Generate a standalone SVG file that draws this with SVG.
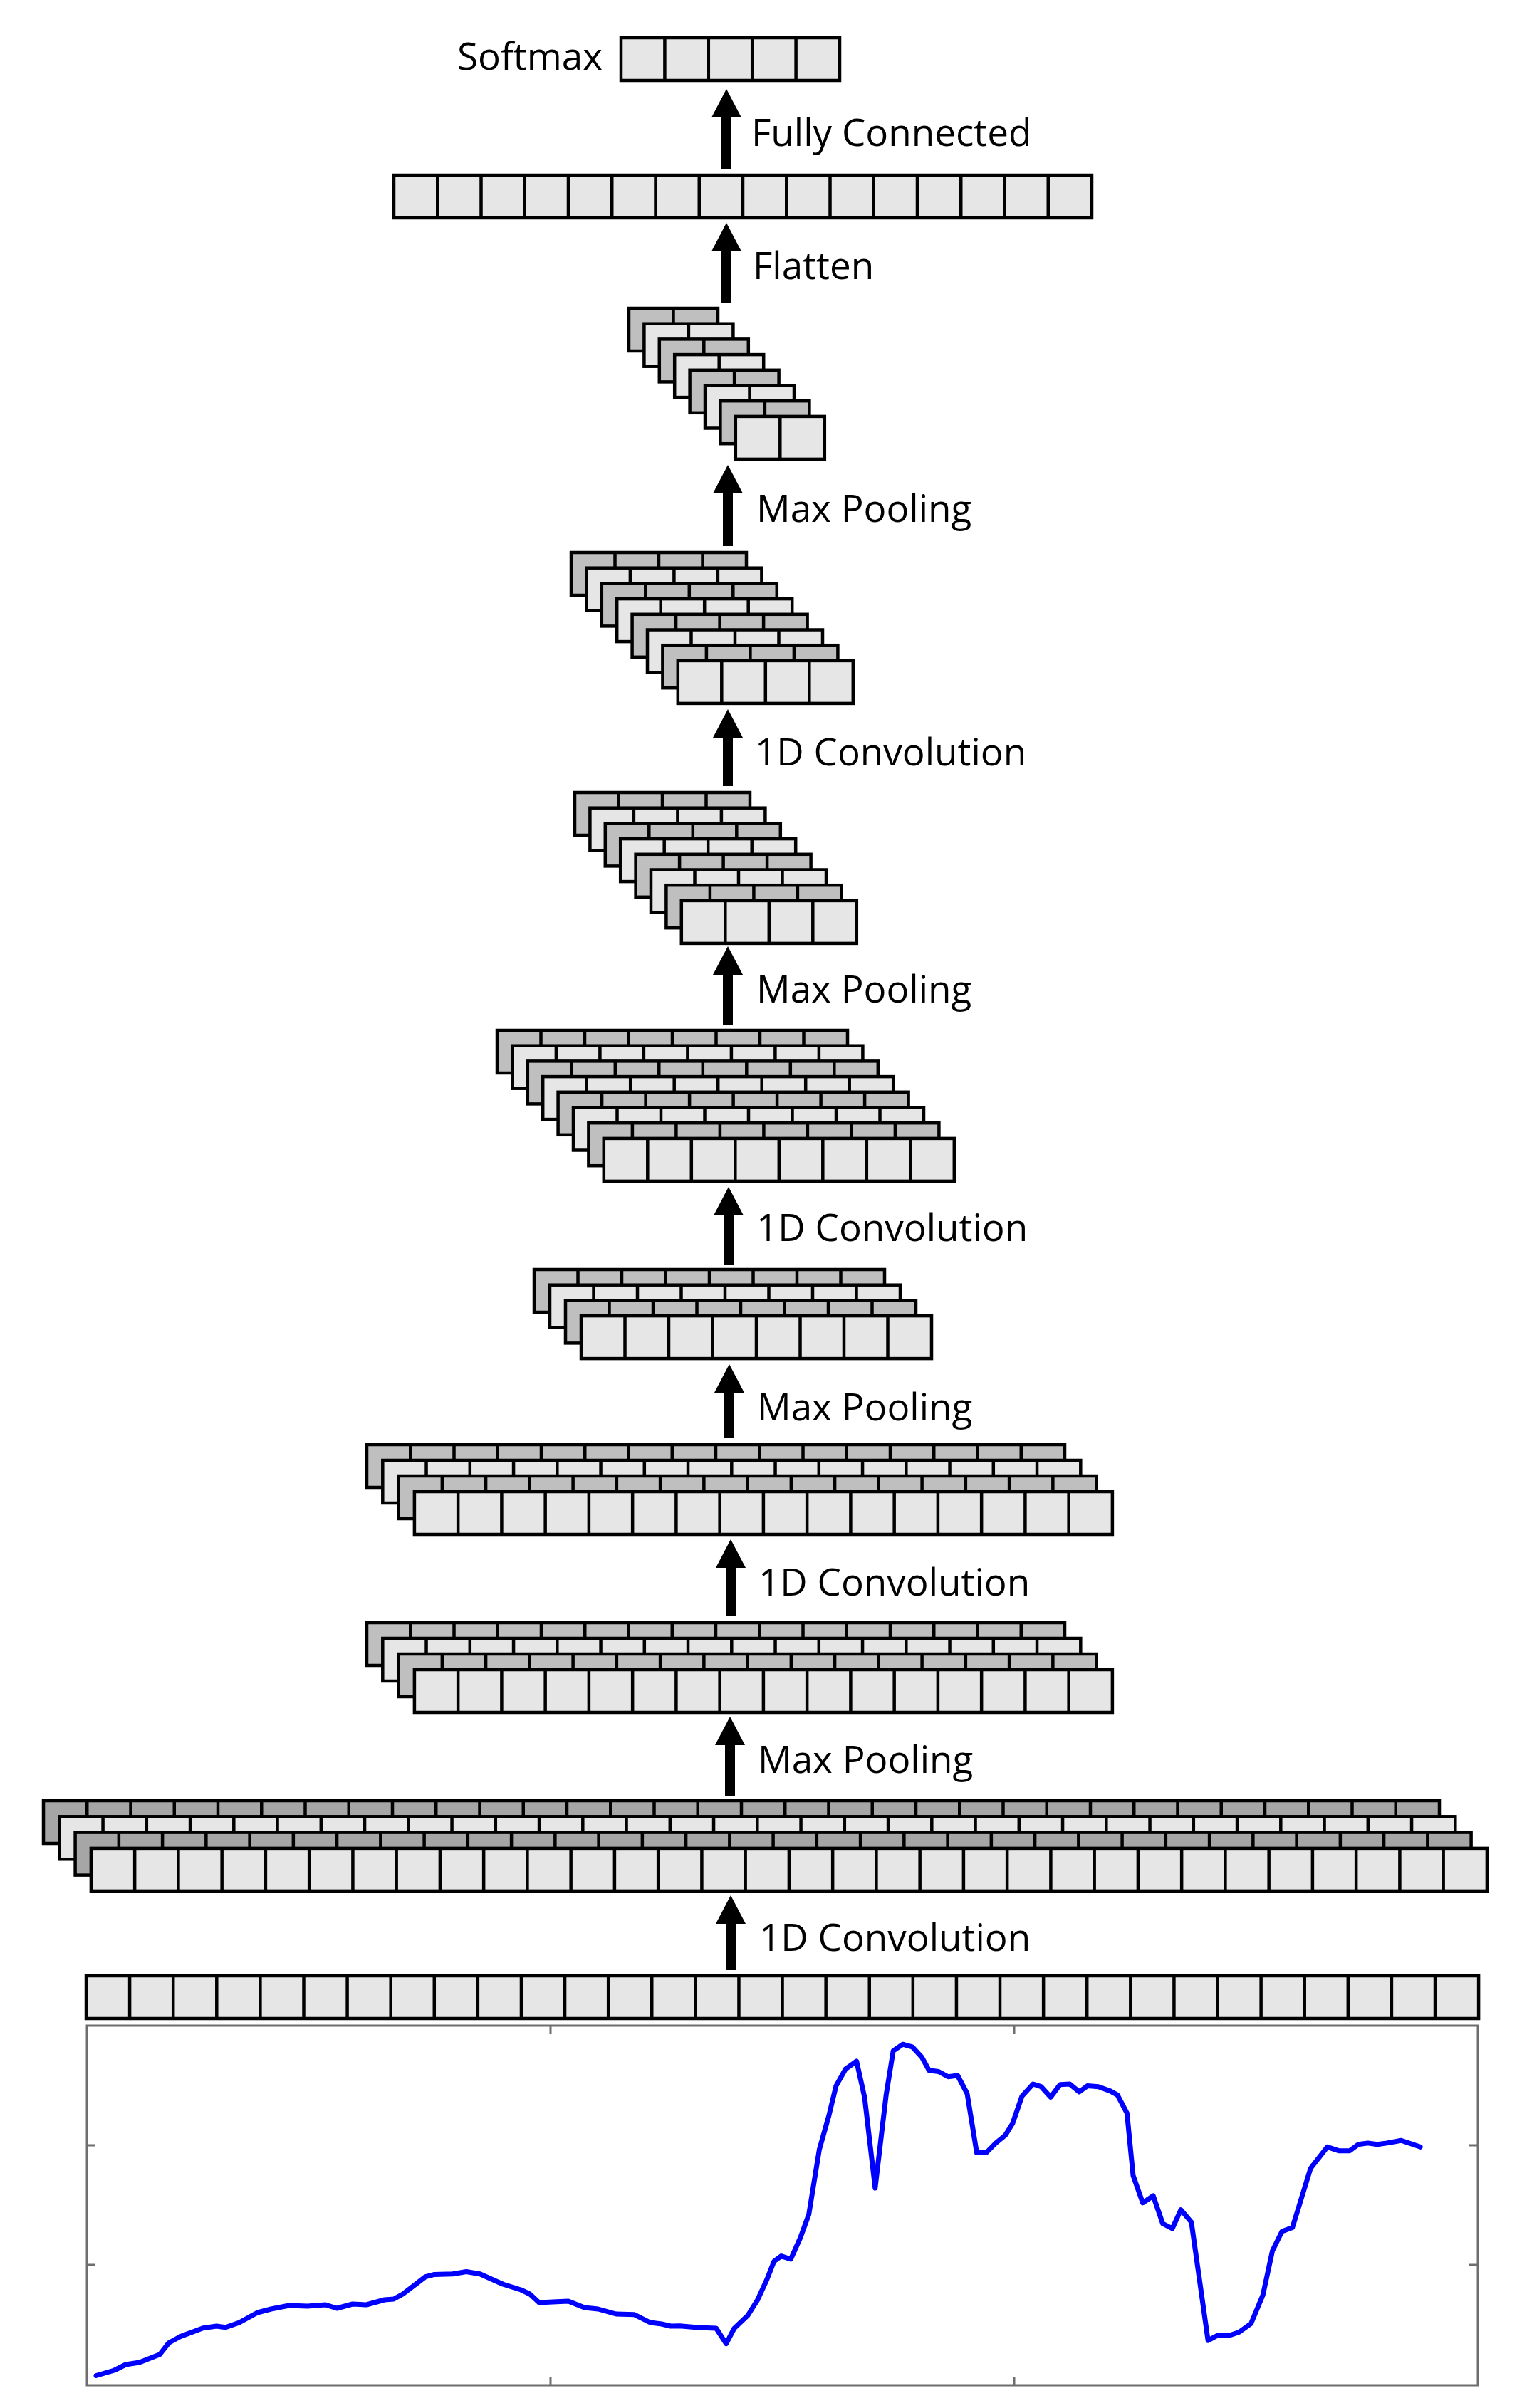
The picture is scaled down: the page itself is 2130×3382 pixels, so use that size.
<svg xmlns="http://www.w3.org/2000/svg" width="2130" height="3382" viewBox="0 0 2130 3382">
<style>
.lt{fill:#e6e6e6}
.dk{fill:#bfbfbf}
.dk2{fill:#a6a6a6}
.lbl{font-family:"Open Sans","Noto Sans","Liberation Sans",sans-serif;font-size:53px;fill:#000}
.arr{stroke:#000;stroke-width:14;fill:none;marker-end:url(#head)}
.axis{fill:#fff;stroke:#6e6e6e;stroke-width:3}
.tick{stroke:#6e6e6e;stroke-width:3;fill:none}
.sig{fill:none;stroke:#0000ff;stroke-width:7;stroke-linejoin:round;stroke-linecap:round}
</style>
<defs>
<marker id="head" viewBox="0 0 40 42" refX="0" refY="21" markerWidth="40" markerHeight="42" markerUnits="userSpaceOnUse" orient="auto">
<path d="M0 0 L40 21 L0 42 Z" fill="#000"/>
</marker>
<g id="s2" stroke="#000" stroke-width="4.5"><rect width="125" height="60"/><path fill="none" d="M62.5 0V60"/></g>
<g id="s4" stroke="#000" stroke-width="4.5"><rect width="246" height="60"/><path fill="none" d="M61.5 0V60M123 0V60M184.5 0V60"/></g>
<g id="s5" stroke="#000" stroke-width="4.5"><rect width="307" height="60"/><path fill="none" d="M61.4 0V60M122.8 0V60M184.2 0V60M245.6 0V60"/></g>
<g id="s8" stroke="#000" stroke-width="4.5"><rect width="492" height="60"/><path fill="none" d="M61.5 0V60M123 0V60M184.5 0V60M246 0V60M307.5 0V60M369 0V60M430.5 0V60"/></g>
<g id="s16" stroke="#000" stroke-width="4.5"><rect width="980" height="60"/><path fill="none" d="M61.25 0V60M122.5 0V60M183.75 0V60M245 0V60M306.25 0V60M367.5 0V60M428.75 0V60M490 0V60M551.25 0V60M612.5 0V60M673.75 0V60M735 0V60M796.25 0V60M857.5 0V60M918.75 0V60"/></g>
<g id="s32" stroke="#000" stroke-width="4.5"><rect width="1960" height="60"/><path fill="none" d="M61.25 0V60M122.5 0V60M183.75 0V60M245 0V60M306.25 0V60M367.5 0V60M428.75 0V60M490 0V60M551.25 0V60M612.5 0V60M673.75 0V60M735 0V60M796.25 0V60M857.5 0V60M918.75 0V60M980 0V60M1041.25 0V60M1102.5 0V60M1163.75 0V60M1225 0V60M1286.25 0V60M1347.5 0V60M1408.75 0V60M1470 0V60M1531.25 0V60M1592.5 0V60M1653.75 0V60M1715 0V60M1776.25 0V60M1837.5 0V60M1898.75 0V60"/></g>
</defs>
<rect width="2130" height="3382" fill="#fff"/>

<g id="softmax">
<use href="#s5" x="872" y="53" class="lt"/>
<text class="lbl" x="642" y="98">Softmax</text>
</g>

<g id="flatten-output">
<use href="#s16" x="553" y="246" class="lt"/>
</g>

<g id="pool4-output">
<use href="#s2" x="883" y="433" class="dk"/>
<use href="#s2" x="904.4" y="454.7" class="lt"/>
<use href="#s2" x="925.8" y="476.4" class="dk"/>
<use href="#s2" x="947.2" y="498.1" class="lt"/>
<use href="#s2" x="968.6" y="519.8" class="dk"/>
<use href="#s2" x="990" y="541.5" class="lt"/>
<use href="#s2" x="1011.4" y="563.2" class="dk"/>
<use href="#s2" x="1032.8" y="584.9" class="lt"/>
</g>

<g id="conv4-output">
<use href="#s4" x="802" y="776" class="dk"/>
<use href="#s4" x="823.4" y="797.7" class="lt"/>
<use href="#s4" x="844.8" y="819.4" class="dk"/>
<use href="#s4" x="866.2" y="841.1" class="lt"/>
<use href="#s4" x="887.6" y="862.8" class="dk"/>
<use href="#s4" x="909" y="884.5" class="lt"/>
<use href="#s4" x="930.4" y="906.2" class="dk"/>
<use href="#s4" x="951.8" y="927.9" class="lt"/>
</g>

<g id="pool3-output">
<use href="#s4" x="807" y="1113" class="dk"/>
<use href="#s4" x="828.4" y="1134.7" class="lt"/>
<use href="#s4" x="849.8" y="1156.4" class="dk"/>
<use href="#s4" x="871.2" y="1178.1" class="lt"/>
<use href="#s4" x="892.6" y="1199.8" class="dk"/>
<use href="#s4" x="914" y="1221.5" class="lt"/>
<use href="#s4" x="935.4" y="1243.2" class="dk"/>
<use href="#s4" x="956.8" y="1264.9" class="lt"/>
</g>

<g id="conv3-output">
<use href="#s8" x="698" y="1447" class="dk"/>
<use href="#s8" x="719.4" y="1468.7" class="lt"/>
<use href="#s8" x="740.8" y="1490.4" class="dk"/>
<use href="#s8" x="762.2" y="1512.1" class="lt"/>
<use href="#s8" x="783.6" y="1533.8" class="dk"/>
<use href="#s8" x="805" y="1555.5" class="lt"/>
<use href="#s8" x="826.4" y="1577.2" class="dk"/>
<use href="#s8" x="847.8" y="1598.9" class="lt"/>
</g>

<g id="pool2-output">
<use href="#s8" x="750" y="1783" class="dk"/>
<use href="#s8" x="772" y="1804.7" class="lt"/>
<use href="#s8" x="794" y="1826.4" class="dk"/>
<use href="#s8" x="816" y="1848.1" class="lt"/>
</g>

<g id="conv2-output">
<use href="#s16" x="515" y="2029" class="dk"/>
<use href="#s16" x="537.3" y="2051" class="lt"/>
<use href="#s16" x="559.6" y="2073" class="dk"/>
<use href="#s16" x="581.9" y="2095" class="lt"/>
</g>

<g id="pool1-output">
<use href="#s16" x="515" y="2279" class="dk"/>
<use href="#s16" x="537.3" y="2301" class="lt"/>
<use href="#s16" x="559.6" y="2323" class="dk"/>
<use href="#s16" x="581.9" y="2345" class="lt"/>
</g>

<g id="conv1-output">
<use href="#s32" x="61" y="2529" class="dk2"/>
<use href="#s32" x="83.3" y="2551.3" class="lt"/>
<use href="#s32" x="105.6" y="2573.6" class="dk2"/>
<use href="#s32" x="127.9" y="2595.9" class="lt"/>
</g>

<g id="input">
<use href="#s32" transform="translate(121 2775) scale(0.9975 1)" class="lt"/>
</g>

<g id="signal-plot">
<rect class="axis" x="122" y="2845" width="1953" height="505"/>
<path class="tick" d="M773 2845v12M1424 2845v12M773 3350v-12M1424 3350v-12M122 3013h12M122 3181h12M2075 3013h-12M2075 3181h-12"/>
<polyline class="sig" points="135,3336.5 160.6,3329 176.5,3321 195.7,3318 224.4,3306.7 237,3290.5 253,3281.7 285,3269.8 304,3267 316.8,3268.7 336,3262 361.5,3248 380.6,3243 406,3238 431.6,3239 457,3237 473,3242 495,3236 514.5,3237 540,3230 552.8,3229 565.6,3222 597.4,3197.6 610,3194.4 635.7,3193.7 654.8,3190.5 674,3193.7 705.9,3208 731.4,3216 744,3222 757,3234 776,3233 798,3232 820.7,3241 839.8,3243 865,3250 890.8,3250.8 913,3262 929,3264 941.8,3267 954.6,3266.7 980,3269 1005.6,3270 1019.6,3291.7 1031,3270 1050,3252 1063.4,3230.7 1076.8,3201.5 1086.8,3176 1096.9,3168.6 1110.3,3173 1123.7,3143 1135.7,3110 1150.4,3019 1163.8,2971.5 1173.9,2929.6 1187.3,2905.8 1202.7,2894.9 1214,2946 1228.8,3073 1244.2,2942.3 1254.2,2880.3 1267.6,2871.2 1281,2874.8 1294.4,2889.4 1304.5,2907.7 1317.9,2909.5 1331.3,2916.8 1344.6,2915 1358,2940.5 1371.4,3023.4 1384.8,3023.4 1398.2,3009.9 1411.6,2998.9 1421.7,2982.5 1435,2944 1450.5,2927 1461.8,2930.7 1475.2,2945.3 1488.6,2927.7 1502,2927 1515.4,2938 1526.8,2929.6 1542.2,2930.7 1559,2936.9 1569,2942.3 1582.4,2967.9 1591,3055.5 1604.5,3093.8 1619.2,3084 1632.6,3123 1646,3130 1658,3103.6 1672.8,3121 1696.2,3287.2 1709.6,3280 1726.4,3280 1739.7,3275.5 1756.5,3263.5 1773.2,3223.4 1786.6,3161.3 1800,3134 1814.7,3128.5 1840.2,3045.3 1863.6,3015.3 1880.4,3020.8 1895,3020.8 1907.2,3011.7 1920.5,3009.9 1933.9,3011.7 1947.3,3009.9 1967.4,3006.2 1994.2,3015.3"/>
</g>

<g id="connectors">
<line class="arr" x1="1020" y1="237" x2="1020" y2="165"/>
<line class="arr" x1="1020" y1="425" x2="1020" y2="353"/>
<line class="arr" x1="1022" y1="767" x2="1022" y2="693"/>
<line class="arr" x1="1022" y1="1104" x2="1022" y2="1036"/>
<line class="arr" x1="1022" y1="1439" x2="1022" y2="1369"/>
<line class="arr" x1="1023" y1="1776" x2="1023" y2="1707"/>
<line class="arr" x1="1024" y1="2020" x2="1024" y2="1956"/>
<line class="arr" x1="1026" y1="2270" x2="1026" y2="2202"/>
<line class="arr" x1="1025" y1="2522" x2="1025" y2="2451"/>
<line class="arr" x1="1026" y1="2767" x2="1026" y2="2702"/>
</g>

<g id="labels">
<text class="lbl" x="1055" y="205">Fully Connected</text>
<text class="lbl" x="1057" y="392">Flatten</text>
<text class="lbl" x="1062" y="733">Max Pooling</text>
<text class="lbl" x="1060" y="1075">1D Convolution</text>
<text class="lbl" x="1062" y="1408">Max Pooling</text>
<text class="lbl" x="1062" y="1743">1D Convolution</text>
<text class="lbl" x="1063" y="1995">Max Pooling</text>
<text class="lbl" x="1065" y="2241">1D Convolution</text>
<text class="lbl" x="1064" y="2490">Max Pooling</text>
<text class="lbl" x="1066" y="2740">1D Convolution</text>
</g>
</svg>
